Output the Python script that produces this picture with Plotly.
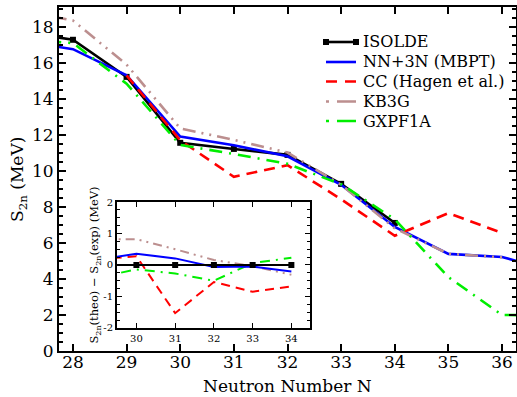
import plotly.graph_objects as go

# ---------------- data ----------------
N_main = [27, 28, 29, 30, 31, 32, 33, 34, 35, 36, 37]
N_exp = [27, 28, 29, 30, 31, 32, 33, 34]
isolde = [17.75, 17.28, 15.22, 11.56, 11.22, 10.89, 9.28, 7.11]
mbpt = [17.22, 16.76, 15.31, 11.91, 11.42, 10.81, 9.23, 6.89, 5.39, 5.22, 4.4]
N_cc = [29, 30, 31, 32, 33, 34, 35, 36]
cc = [15.3, 11.7, 9.67, 10.32, 8.42, 6.40, 7.66, 6.55]
N_kb = [27, 28, 29, 30, 31, 32, 33, 34, 35, 36]
kb3g = [18.9, 18.35, 15.9, 12.36, 11.72, 11.02, 9.23, 6.81, 5.4, 5.2]
gxpf1a = [17.3, 17.1, 14.84, 11.44, 10.94, 10.39, 9.26, 7.31, 4.1, 2.0, 1.97]

N_in = [29, 30, 31, 32, 33, 34]
d_isolde = [0, 0, 0, 0, 0, 0]
d_mbpt = [0.16, 0.36, 0.21, -0.06, -0.05, -0.21]
d_cc = [0.18, 0.28, -1.53, -0.54, -0.85, -0.68]
d_kb3g = [0.82, 0.82, 0.5, 0.16, -0.04, -0.31]
d_gxpf1a = [-0.4, -0.14, -0.27, -0.5, 0.06, 0.23]

x_ticks = [28, 29, 30, 31, 32, 33, 34, 35, 36]
y_ticks = [0, 2, 4, 6, 8, 10, 12, 14, 16, 18]
xin_ticks = [30, 31, 32, 33, 34]
yin_ticks = [-2, -1, 0, 1, 2]
yin_text = ["-2", "-1", "0", "1", "2"]

series_names = ["ISOLDE", "NN+3N (MBPT)", "CC (Hagen et al.)", "KB3G", "GXPF1A"]
x_title = "Neutron Number N"
y_title = "S<sub>2n</sub> (MeV)"
y2_title = "S<sub>2n</sub>(theo) \u2212 S<sub>2n</sub>(exp) (MeV)"

FONT = "DejaVu Serif"
C_BLUE = "#0000ff"
C_RED = "#ff0000"
C_KB = "#bc8f8f"
C_GX = "#00ee00"
LW = 2.6
DASH_CC = "11px,7px"
DASH_KB = "13px,6px,2px,6px,2px,6px"
DASH_GX = "13px,7px,2px,7px"
colors = ["black", C_BLUE, C_RED, C_KB, C_GX]
leg_dashes = ["solid", "solid", "11px,8px", "3px,8px,20px,4px", "3px,8px,20px,4px"]

fig = go.Figure()

fig.add_trace(go.Scatter(x=N_exp, y=isolde, name=series_names[0], mode="lines+markers",
                         line=dict(color="black", width=LW),
                         marker=dict(symbol="square", size=6, color="black")))
fig.add_trace(go.Scatter(x=N_main, y=mbpt, name=series_names[1], mode="lines",
                         line=dict(color=C_BLUE, width=LW)))
fig.add_trace(go.Scatter(x=N_cc, y=cc, name=series_names[2], mode="lines",
                         line=dict(color=C_RED, width=LW, dash=DASH_CC)))
fig.add_trace(go.Scatter(x=N_kb, y=kb3g, name=series_names[3], mode="lines",
                         line=dict(color=C_KB, width=LW, dash=DASH_KB)))
fig.add_trace(go.Scatter(x=N_main, y=gxpf1a, name=series_names[4], mode="lines",
                         line=dict(color=C_GX, width=LW, dash=DASH_GX)))

ins = dict(xaxis="x2", yaxis="y2", showlegend=False)
fig.add_trace(go.Scatter(x=N_in, y=d_kb3g, mode="lines",
                         line=dict(color=C_KB, width=2, dash="9px,5px,2px,5px,2px,5px"), **ins))
fig.add_trace(go.Scatter(x=N_in, y=d_gxpf1a, mode="lines",
                         line=dict(color=C_GX, width=2, dash="10px,6px,2px,6px"), **ins))
fig.add_trace(go.Scatter(x=N_in, y=d_cc, mode="lines",
                         line=dict(color=C_RED, width=2, dash="9px,6px"), **ins))
fig.add_trace(go.Scatter(x=N_in, y=d_mbpt, mode="lines",
                         line=dict(color=C_BLUE, width=2), **ins))
fig.add_trace(go.Scatter(x=N_in, y=d_isolde, mode="lines+markers",
                         line=dict(color="black", width=2),
                         marker=dict(symbol="square", size=6, color="black"), **ins))

axis_common = dict(showline=True, linecolor="black", linewidth=2, mirror="ticks",
                   ticks="inside", tickcolor="black", showgrid=False, zeroline=False,
                   automargin=False)

# pixel -> paper conversion for the main plot area
PL, PR, PT, PB = 59, 516, 7, 351
def px(x):
    return (x - PL) / (PR - PL)
def py(y):
    return (PB - y) / (PB - PT)

shapes = [dict(type="rect", xref="x2 domain", yref="y2 domain", x0=0, x1=1, y0=0, y1=1,
               fillcolor="white", line=dict(width=0), layer="below")]
annotations = [
    dict(xref="paper", yref="paper", x=px(287.5), y=py(386), xanchor="center", yanchor="middle",
         showarrow=False, text=x_title, font=dict(size=17, family=FONT, color="black")),
    dict(xref="paper", yref="paper", x=px(18), y=py(180), xanchor="center", yanchor="middle",
         showarrow=False, text=y_title, textangle=-90,
         font=dict(size=17, family=FONT, color="black")),
]
row_y = [42, 62, 81.5, 101.5, 121]
for i, name in enumerate(series_names):
    shapes.append(dict(type="line", xref="paper", yref="paper",
                       x0=px(326), x1=px(356), y0=py(row_y[i]), y1=py(row_y[i]),
                       line=dict(color=colors[i], width=LW, dash=leg_dashes[i])))
    annotations.append(dict(xref="paper", yref="paper", x=px(361), y=py(row_y[i]),
                            xanchor="left", yanchor="middle", showarrow=False,
                            text=name, font=dict(size=16, family=FONT, color="black")))
for xm in (326, 356):
    shapes.append(dict(type="rect", xref="paper", yref="paper",
                       x0=px(xm - 3), x1=px(xm + 3), y0=py(row_y[0] + 3), y1=py(row_y[0] - 3),
                       fillcolor="black", line=dict(width=0)))

fig.update_layout(
    width=517, height=397,
    margin=dict(l=59, r=1, t=7, b=46, autoexpand=False),
    paper_bgcolor="white", plot_bgcolor="white",
    font=dict(family=FONT, color="black", size=16),
    showlegend=False,
    xaxis=dict(range=[27.74, 36.26], tickvals=x_ticks, ticklen=7, tickwidth=1.5,
               tickfont=dict(size=17, color="black", family=FONT),
               ticklabelstandoff=-5,
               **axis_common),
    yaxis=dict(range=[0, 19.1], tickvals=y_ticks, ticklen=7, tickwidth=1.5,
               tickfont=dict(size=17, color="black", family=FONT),
               minor=dict(dtick=0.5, ticklen=4, tickcolor="black", ticks="inside"),
               **axis_common),
    xaxis2=dict(domain=[0.127, 0.550], anchor="y2", range=[29.5, 34.49],
                tickvals=xin_ticks, ticklen=5,
                tickfont=dict(size=10, color="black", family=FONT),
                **axis_common),
    yaxis2=dict(domain=[0.067, 0.433], anchor="x2", range=[-2, 2],
                tickvals=yin_ticks, ticktext=yin_text, ticklen=5,
                tickfont=dict(size=10, color="black", family=FONT),
                minor=dict(dtick=0.25, ticklen=3, tickcolor="black", ticks="inside"),
                title=dict(text=y2_title, font=dict(size=11.5, family=FONT), standoff=2),
                **axis_common),
    shapes=shapes,
    annotations=annotations,
)

fig.write_html("out.html")
